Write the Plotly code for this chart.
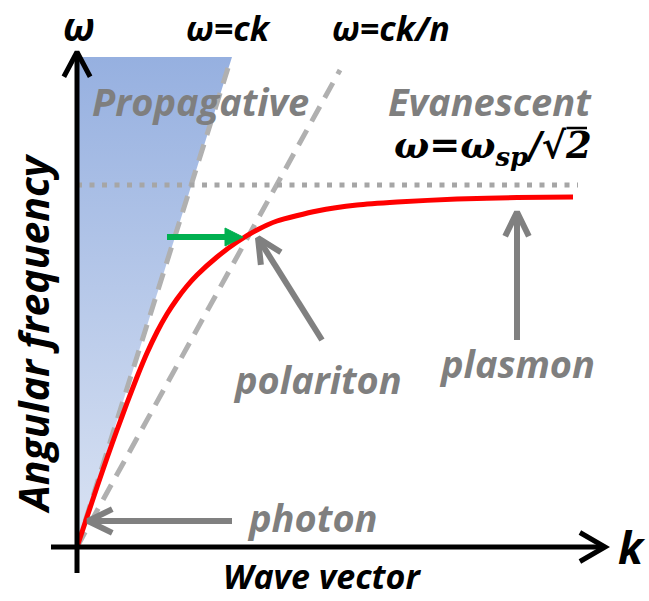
import math
import plotly.graph_objects as go

# ---------------- data (k and omega in arbitrary units, origin at axes crossing) -------------
spp_k = [0.00, 0.10, 0.20, 0.30, 0.40, 0.50, 0.60, 0.70, 0.80, 0.90, 1.00, 1.10, 1.20,
         1.40, 1.60, 1.80, 2.00, 2.40, 2.80, 3.20, 3.80, 4.40, 4.96]
spp_w = [0.00, 0.30, 0.60, 0.89, 1.17, 1.44, 1.70, 1.94, 2.15, 2.33, 2.48, 2.61, 2.72,
         2.90, 3.05, 3.17, 3.26, 3.36, 3.42, 3.45, 3.48, 3.495, 3.50]

light_k = [0.0, 1.51]          # omega = c k
light_w = [0.0, 4.79]
medium_k = [0.0, 2.63]         # omega = c k / n
medium_w = [0.0, 4.77]
wsp_level = 3.62               # omega_sp / sqrt(2)
wsp_k = [0.0, 5.01]

prop_k = [0.0, 0.0, 1.55, 0.0]  # propagative (light-cone) region
prop_w = [0.0, 4.90, 4.90, 0.0]

k_axis = [-0.26, 5.28]
w_axis = [-0.26, 4.95]

# annotation arrows: (tail_k, tail_w, tip_k, tip_w)
photon_arrow = (1.55, 0.26, 0.11, 0.26)
polariton_arrow = (2.45, 2.07, 1.81, 3.09)
plasmon_arrow = (4.40, 2.07, 4.40, 3.35)
green_arrow = (0.90, 3.10, 1.66, 3.10)

GRAY_TXT = "#7f7f7f"
GRAY_LINE = "#b0b0b0"
FONT = "Open Sans"

fig = go.Figure()

# propagative region with gradient
fig.add_trace(go.Scatter(
    x=prop_k, y=prop_w, mode="lines", line=dict(width=0), fill="toself",
    fillgradient=dict(type="vertical",
                      colorscale=[[0, "rgb(218,227,243)"], [1, "rgb(150,176,224)"]]),
    hoverinfo="skip", showlegend=False))

# light lines
for xs, ys in ((light_k, light_w), (medium_k, medium_w)):
    fig.add_trace(go.Scatter(x=xs, y=ys, mode="lines",
                             line=dict(color=GRAY_LINE, width=5, dash="17px,10px"),
                             hoverinfo="skip", showlegend=False))

# asymptote
fig.add_trace(go.Scatter(x=wsp_k, y=[wsp_level, wsp_level], mode="lines",
                         line=dict(color="#a6a6a6", width=5, dash="5px,7.5px"),
                         hoverinfo="skip", showlegend=False))

# SPP dispersion
fig.add_trace(go.Scatter(x=spp_k, y=spp_w, mode="lines",
                         line=dict(color="#ff0000", width=5, shape="spline", smoothing=0.6),
                         hoverinfo="skip", showlegend=False))


def chevron(tail, tip, color, width, head_len=0.27, half_angle=27):
    tx, ty = tail
    hx, hy = tip
    ang = math.atan2(hy - ty, hx - tx)
    a = math.radians(half_angle)
    p1 = (hx - head_len * math.cos(ang - a), hy - head_len * math.sin(ang - a))
    p2 = (hx - head_len * math.cos(ang + a), hy - head_len * math.sin(ang + a))
    fig.add_trace(go.Scatter(x=[tx, hx], y=[ty, hy], mode="lines",
                             line=dict(color=color, width=width),
                             hoverinfo="skip", showlegend=False))
    fig.add_trace(go.Scatter(x=[p1[0], hx, p2[0]], y=[p1[1], hy, p2[1]], mode="lines",
                             line=dict(color=color, width=width),
                             hoverinfo="skip", showlegend=False))


# axes
chevron((0, w_axis[0]), (0, w_axis[1]), "black", 5, 0.28, 28)
chevron((k_axis[0], 0), (k_axis[1], 0), "black", 5, 0.29, 30)

# gray arrows
for arr in (photon_arrow, polariton_arrow, plasmon_arrow):
    chevron((arr[0], arr[1]), (arr[2], arr[3]), "#808080", 6, 0.27, 26)

# green arrow with filled head
gx0, gy0, gx1, gy1 = green_arrow
head = 0.18
fig.add_trace(go.Scatter(x=[gx0, gx1 - head + 0.02], y=[gy0, gy1], mode="lines",
                         line=dict(color="#00b050", width=6),
                         hoverinfo="skip", showlegend=False))
fig.add_trace(go.Scatter(x=[gx1 - head, gx1, gx1 - head, gx1 - head],
                         y=[gy1 + 0.09, gy1, gy1 - 0.09, gy1 + 0.09],
                         mode="lines", fill="toself", fillcolor="#00b050",
                         line=dict(color="#00b050", width=1),
                         hoverinfo="skip", showlegend=False))


def label(text, x, y, size, color="black", angle=0, family=FONT, style="italic"):
    fig.add_annotation(x=x, y=y, xref="x", yref="y", text=text, showarrow=False,
                       textangle=angle, xanchor="center", yanchor="middle",
                       font=dict(family=family, size=size, color=color,
                                 weight="bold", style=style))


label("ω", 0.02, 5.22, 39)
label("ω=ck", 1.51, 5.19, 34)
label("ω=ck/n", 3.14, 5.19, 34)
label("Propagative", 1.23, 4.46, 38, GRAY_TXT)
label("Evanescent", 4.13, 4.46, 38, GRAY_TXT)
label("ω=ω<sub>sp</sub>/√2", 4.16, 4.00, 37, family="DejaVu Serif")
label("polariton", 2.40, 1.68, 38, GRAY_TXT)
label("plasmon", 4.40, 1.84, 38, GRAY_TXT)
label("photon", 2.35, 0.30, 38, GRAY_TXT)
label("k", 5.55, 0.0, 44)
label("Wave vector", 2.45, -0.29, 34)
label("Angular frequency", -0.44, 2.13, 41, angle=-90)

# vinculum of the square root in the asymptote label
fig.add_shape(type="line", xref="x", yref="y", x0=4.895, x1=5.10, y0=4.19, y1=4.19,
              line=dict(color="black", width=2.5))

fig.update_layout(
    width=649, height=601, autosize=False,
    margin=dict(l=0, r=0, t=0, b=0, pad=0),
    paper_bgcolor="white", plot_bgcolor="white",
    xaxis=dict(range=[-0.77, 5.72], visible=False, fixedrange=True),
    yaxis=dict(range=[-0.54, 5.47], visible=False, fixedrange=True),
    showlegend=False,
)

fig.write_html("out.html", config={"displayModeBar": False},
               post_script="document.body.style.margin='0';document.body.style.overflow='hidden';")
